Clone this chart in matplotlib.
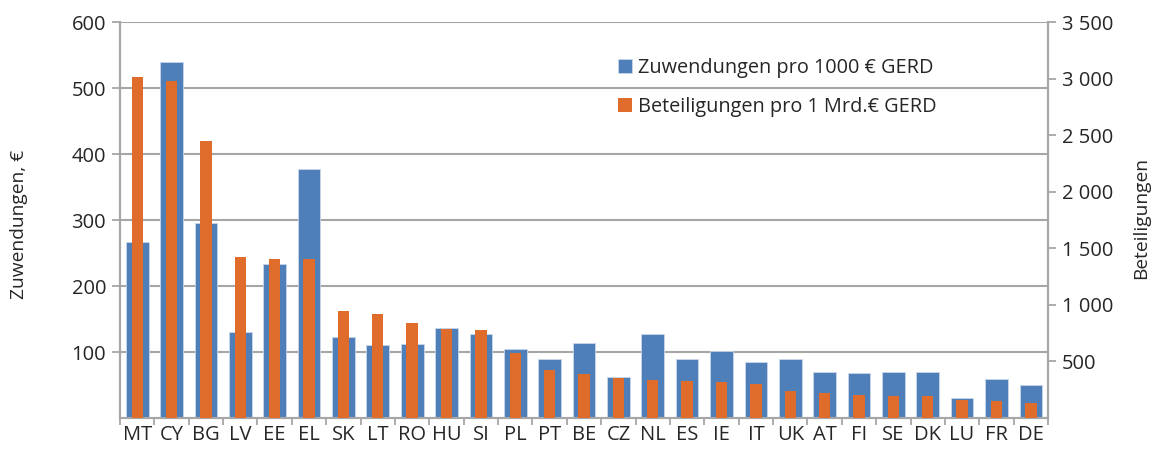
import matplotlib
matplotlib.use("Agg")
import matplotlib.pyplot as plt
import numpy as np

plt.rcParams['font.family'] = ['Open Sans', 'DejaVu Sans']

countries = ["MT", "CY", "BG", "LV", "EE", "EL", "SK", "LT", "RO", "HU", "SI", "PL", "PT", "BE",
             "CZ", "NL", "ES", "IE", "IT", "UK", "AT", "FI", "SE", "DK", "LU", "FR", "DE"]
zuwendungen = [267, 540, 295, 130, 233, 378, 122, 110, 112, 136, 127, 104, 90, 114,
               62, 127, 90, 101, 85, 89, 70, 68, 70, 69, 31, 59, 50]
beteiligungen = [3010, 2975, 2445, 1423, 1408, 1403, 948, 916, 840, 787, 775, 572, 424, 389,
                 354, 339, 327, 318, 298, 241, 218, 200, 194, 194, 162, 150, 130]
left_ticks = [100, 200, 300, 400, 500, 600]
right_ticks = [500, 1000, 1500, 2000, 2500, 3000, 3500]
right_labels = ["500", "1 000", "1 500", "2 000", "2 500", "3 000", "3 500"]

blue = "#4F7FB8"
orange = "#E06C2B"
grid_c = "#A6A6A6"
text_c = "#262626"

fig = plt.figure(figsize=(11.55, 4.55), dpi=100)
ax = fig.add_axes([0.1039, 0.0813, 0.8035, 0.8703])
ax2 = ax.twinx()

x = np.arange(len(countries))
b1 = ax.bar(x, zuwendungen, width=0.66, color=blue, edgecolor="#C9D6EA", linewidth=0.6,
            label="Zuwendungen pro 1000 € GERD", zorder=2)
b2 = ax2.bar(x, beteiligungen, width=0.33, color=orange, edgecolor="none",
             label="Beteiligungen pro 1 Mrd.€ GERD", zorder=3)

ax.set_xlim(-0.5, len(countries) - 0.5)
ax.set_ylim(0, 600)
ax2.set_ylim(0, 3500)

ax.set_yticks(left_ticks)
ax.set_yticklabels([str(t) for t in left_ticks])
ax2.set_yticks(right_ticks)
ax2.set_yticklabels(right_labels)

ax.set_xticks(x)
ax.set_xticklabels(countries)
ax.set_xticks(np.arange(-0.5, len(countries), 1.0), minor=True)
ax.tick_params(axis='x', which='major', length=0, labelsize=14.5, colors=text_c, pad=5)
ax.tick_params(axis='x', which='minor', length=5, width=1.3, color=grid_c)
ax.tick_params(axis='y', length=6, width=1.3, color=grid_c, labelsize=14.5, labelcolor=text_c, pad=4)
ax2.tick_params(axis='y', length=6, width=1.3, color=grid_c, labelsize=14.5, labelcolor=text_c, pad=4)

ax.yaxis.grid(True, color=grid_c, linewidth=1.5, zorder=0)
ax.set_axisbelow(True)

for a in (ax, ax2):
    a.spines['top'].set_visible(False)
    for s in ('left', 'right', 'bottom'):
        a.spines[s].set_color(grid_c)
        a.spines[s].set_linewidth(1.5)

ax.set_ylabel("Zuwendungen, €", fontsize=13.8, color=text_c)
ax2.set_ylabel("Beteiligungen", fontsize=13.8, color=text_c)
ax.yaxis.set_label_coords(-0.099, 0.49)
ax2.yaxis.set_label_coords(1.0905, 0.505)

ax.set_zorder(ax2.get_zorder() - 1)
ax.patch.set_visible(False)
ax2.patch.set_visible(False)

fig.legend([b1, b2], [b1.get_label(), b2.get_label()], loc="upper left",
           bbox_to_anchor=(0.520, 0.912), frameon=False, fontsize=14.3,
           handlelength=0.7, handleheight=0.7, handletextpad=0.3, labelspacing=0.95,
           labelcolor=text_c)

fig.savefig("out.png", dpi=100)
